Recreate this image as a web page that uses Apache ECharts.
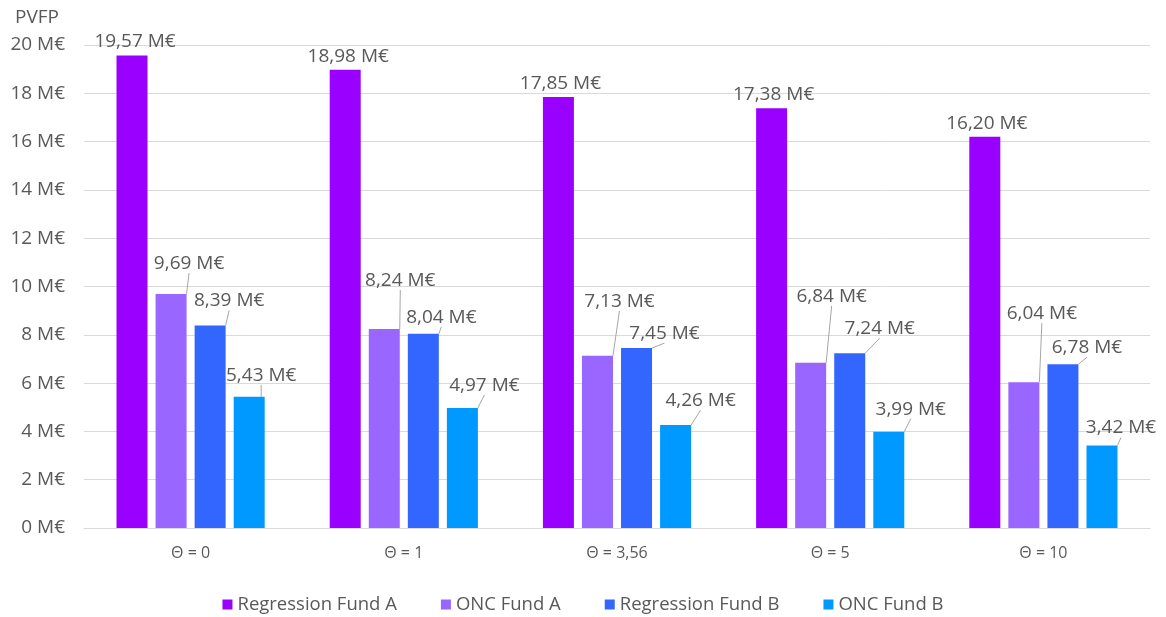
<!DOCTYPE html>
<html>
<head>
<meta charset="utf-8">
<script src="https://cdn.jsdelivr.net/npm/echarts@6/dist/echarts.min.js"></script>
<style>html,body{margin:0;padding:0;background:#fff}#c{width:1166px;height:617px}</style>
</head>
<body>
<div id="c"></div>
<script>
const categories = ['Θ = 0', 'Θ = 1', 'Θ = 3,56', 'Θ = 5', 'Θ = 10'];
const seriesNames = ['Regression Fund A', 'ONC Fund A', 'Regression Fund B', 'ONC Fund B'];
const regressionFundA = [19.57, 18.98, 17.85, 17.38, 16.20];
const oncFundA = [9.69, 8.24, 7.13, 6.84, 6.04];
const regressionFundB = [8.39, 8.04, 7.45, 7.24, 6.78];
const oncFundB = [5.43, 4.97, 4.26, 3.99, 3.42];
const yTicks = { min: 0, max: 20, interval: 2 };

// label placement (style only): extra shift of callout labels, per series / category
const labelShift = [
  { dx: [3, 3, 2, 2, 2], dy: [1, 1, 1, 1, 1] },
  { dx: [18, 16, 22, 21, 18], dy: [-16, -34, -40, -52, -54] },
  { dx: [19, 18, 28, 30, 24], dy: [-10, -2, 0, -10, -2] },
  { dx: [12, 22, 25, 22, 19], dy: [-7, -8, -10, -8, -3] }
];
const colors = ['#9900FF', '#9966FF', '#3366FF', '#0099FF'];
const FONT = 'Open Sans';
const TXT = '#595959';

const values = [regressionFundA, oncFundA, regressionFundB, oncFundB];
const fmt = v => v.toFixed(2).replace('.', ',') + ' M€';

const chart = echarts.init(document.getElementById('c'));
chart.setOption({
  animation: false,
  textStyle: { fontFamily: FONT },
  title: { text: 'PVFP', left: 10, top: 3, textStyle: { fontFamily: FONT, fontSize: 19, fontWeight: 'normal', color: TXT } },
  grid: { left: 84, right: 16, top: 45, bottom: 89 },
  legend: {
    bottom: -2, left: 'center',
    itemWidth: 10, itemHeight: 10, itemGap: 44,
    icon: 'rect',
    textStyle: { fontFamily: FONT, fontSize: 18.5, color: TXT, padding: [0, 0, 0, 0] },
    data: seriesNames
  },
  xAxis: {
    type: 'category', data: categories,
    axisLine: { lineStyle: { color: '#d9d9d9' } },
    axisTick: { show: false },
    axisLabel: { color: TXT, fontSize: 16, margin: 17, fontFamily: FONT }
  },
  yAxis: {
    type: 'value', min: yTicks.min, max: yTicks.max, interval: yTicks.interval,
    axisLine: { show: false }, axisTick: { show: false },
    splitLine: { lineStyle: { color: '#d9d9d9' } },
    axisLabel: { color: TXT, fontSize: 19, margin: 19, fontFamily: FONT, formatter: v => v + ' M€' }
  },
  series: seriesNames.map((name, i) => ({
    name, type: 'bar', data: values[i],
    barWidth: 31, barGap: '26%',
    itemStyle: { color: colors[i] },
    label: {
      show: true, position: 'top', distance: 5,
      color: TXT, fontSize: 19, fontFamily: FONT,
      formatter: p => fmt(p.value)
    },
    labelLine: { show: i > 0, lineStyle: { color: '#a6a6a6', width: 1 } },
    labelLayout: p => ({ dx: labelShift[p.seriesIndex].dx[p.dataIndex], dy: labelShift[p.seriesIndex].dy[p.dataIndex] })
  }))
});
</script>
</body>
</html>
